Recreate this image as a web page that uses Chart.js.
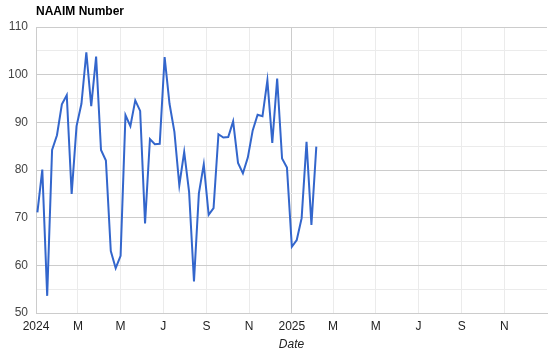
<!DOCTYPE html>
<html>
<head>
<meta charset="utf-8">
<script src="https://cdn.jsdelivr.net/npm/chart.js@4"></script>
<style>
  html, body { margin: 0; padding: 0; background: #fff; }
</style>
</head>
<body>
<canvas id="naaim" width="552" height="354"></canvas>
<script>
// weekly survey dates (Wednesdays)
var dates = [
    '2024-01-03', '2024-01-10', '2024-01-17', '2024-01-24', '2024-01-31',
    '2024-02-07', '2024-02-14', '2024-02-21', '2024-02-28',
    '2024-03-06', '2024-03-13', '2024-03-20', '2024-03-27',
    '2024-04-03', '2024-04-10', '2024-04-17', '2024-04-24',
    '2024-05-01', '2024-05-08', '2024-05-15', '2024-05-22', '2024-05-29',
    '2024-06-05', '2024-06-12', '2024-06-19', '2024-06-26',
    '2024-07-03', '2024-07-10', '2024-07-17', '2024-07-24', '2024-07-31',
    '2024-08-07', '2024-08-14', '2024-08-21', '2024-08-28',
    '2024-09-04', '2024-09-11', '2024-09-18', '2024-09-25',
    '2024-10-02', '2024-10-09', '2024-10-16', '2024-10-23', '2024-10-30',
    '2024-11-06', '2024-11-13', '2024-11-20', '2024-11-27',
    '2024-12-04', '2024-12-11', '2024-12-18', '2024-12-25',
    '2025-01-01', '2025-01-08', '2025-01-15', '2025-01-22', '2025-01-29',
    '2025-02-05'
];

var naaim = [
    71.1, 80.1, 53.6, 84.2, 87.3,
    93.8, 95.7, 75.0, 89.2,
    93.9, 104.7, 93.4, 103.8,
    84.2, 82.0, 63.0, 59.4,
    62.0, 91.5, 89.2, 94.6, 92.4,
    68.8, 86.5, 85.4, 85.5,
    103.7, 93.9, 88.0, 76.8, 83.8,
    75.4, 56.6, 75.1, 81.2,
    70.6, 72.0, 87.5, 86.8,
    86.9, 90.2, 81.5, 79.3, 82.6,
    88.3, 91.6, 91.3, 98.8,
    85.7, 99.2, 82.4, 80.5,
    63.9, 65.3, 69.9, 85.9, 68.5,
    84.9
];

var tickDates = ['2024-01-01', '2024-03-01', '2024-05-01', '2024-07-01', '2024-09-01', '2024-11-01',
                 '2025-01-01', '2025-03-01', '2025-05-01', '2025-07-01', '2025-09-01', '2025-11-01'];
var tickLabels = ['2024', 'M', 'M', 'J', 'S', 'N', '2025', 'M', 'M', 'J', 'S', 'N'];

var xStart = '2024-01-01';
var xEnd = '2026-01-01';

function dayNum(s) {
    var p = s.split('-');
    return (Date.UTC(+p[0], +p[1] - 1, +p[2]) - Date.UTC(2024, 0, 1)) / 86400000;
}

var points = dates.map(function (d, i) { return { x: dayNum(d), y: naaim[i] }; });

var titlePlugin = {
    id: 'topTitle',
    afterDraw: function (chart) {
        var c = chart.ctx;
        c.save();
        c.font = 'bold 12px Arial, "Liberation Sans", sans-serif';
        c.fillStyle = '#000';
        c.textBaseline = 'middle';
        c.textAlign = 'left';
        c.fillText('NAAIM Number', chart.chartArea.left, 12);
        c.restore();
    }
};

Chart.defaults.font.family = 'Arial, "Liberation Sans", sans-serif';
Chart.defaults.font.size = 12;

new Chart(document.getElementById('naaim'), {
    type: 'line',
    data: {
        datasets: [{
            label: 'NAAIM Number',
            data: points,
            borderColor: '#3366cc',
            borderWidth: 2,
            pointRadius: 0,
            tension: 0,
            fill: false
        }]
    },
    options: {
        responsive: false,
        animation: false,
        layout: { padding: { top: 27, right: 5, left: 0, bottom: 0 } },
        plugins: {
            legend: { display: false },
            tooltip: { enabled: false }
        },
        scales: {
            x: {
                type: 'linear',
                min: dayNum(xStart),
                max: dayNum(xEnd),
                afterBuildTicks: function (scale) {
                    scale.ticks = tickDates.map(function (d) { return { value: dayNum(d) }; });
                },
                afterFit: function (scale) { scale.height = 41; },
                ticks: {
                    autoSkip: false,
                    maxRotation: 0,
                    padding: 6,
                    color: '#222',
                    callback: function (v, i) { return tickLabels[i]; }
                },
                grid: {
                    drawTicks: false,
                    color: function (ctx) { return ctx.index === 6 ? '#cccccc' : '#ebebeb'; }
                },
                border: { color: '#cccccc' },
                title: {
                    display: true,
                    text: 'Date',
                    color: '#222',
                    font: { style: 'italic', size: 12 },
                    padding: { top: 6, bottom: 2 }
                }
            },
            y: {
                min: 50,
                max: 110,
                afterFit: function (scale) { scale.width = 36; },
                ticks: {
                    stepSize: 5,
                    padding: 8,
                    color: '#444',
                    callback: function (v) { return v % 10 === 0 ? v : ''; }
                },
                grid: {
                    drawTicks: false,
                    color: function (ctx) { return ctx.tick && ctx.tick.value % 10 === 0 ? '#cccccc' : '#ebebeb'; }
                },
                border: { color: '#cccccc' }
            }
        }
    },
    plugins: [titlePlugin]
});
</script>
</body>
</html>
